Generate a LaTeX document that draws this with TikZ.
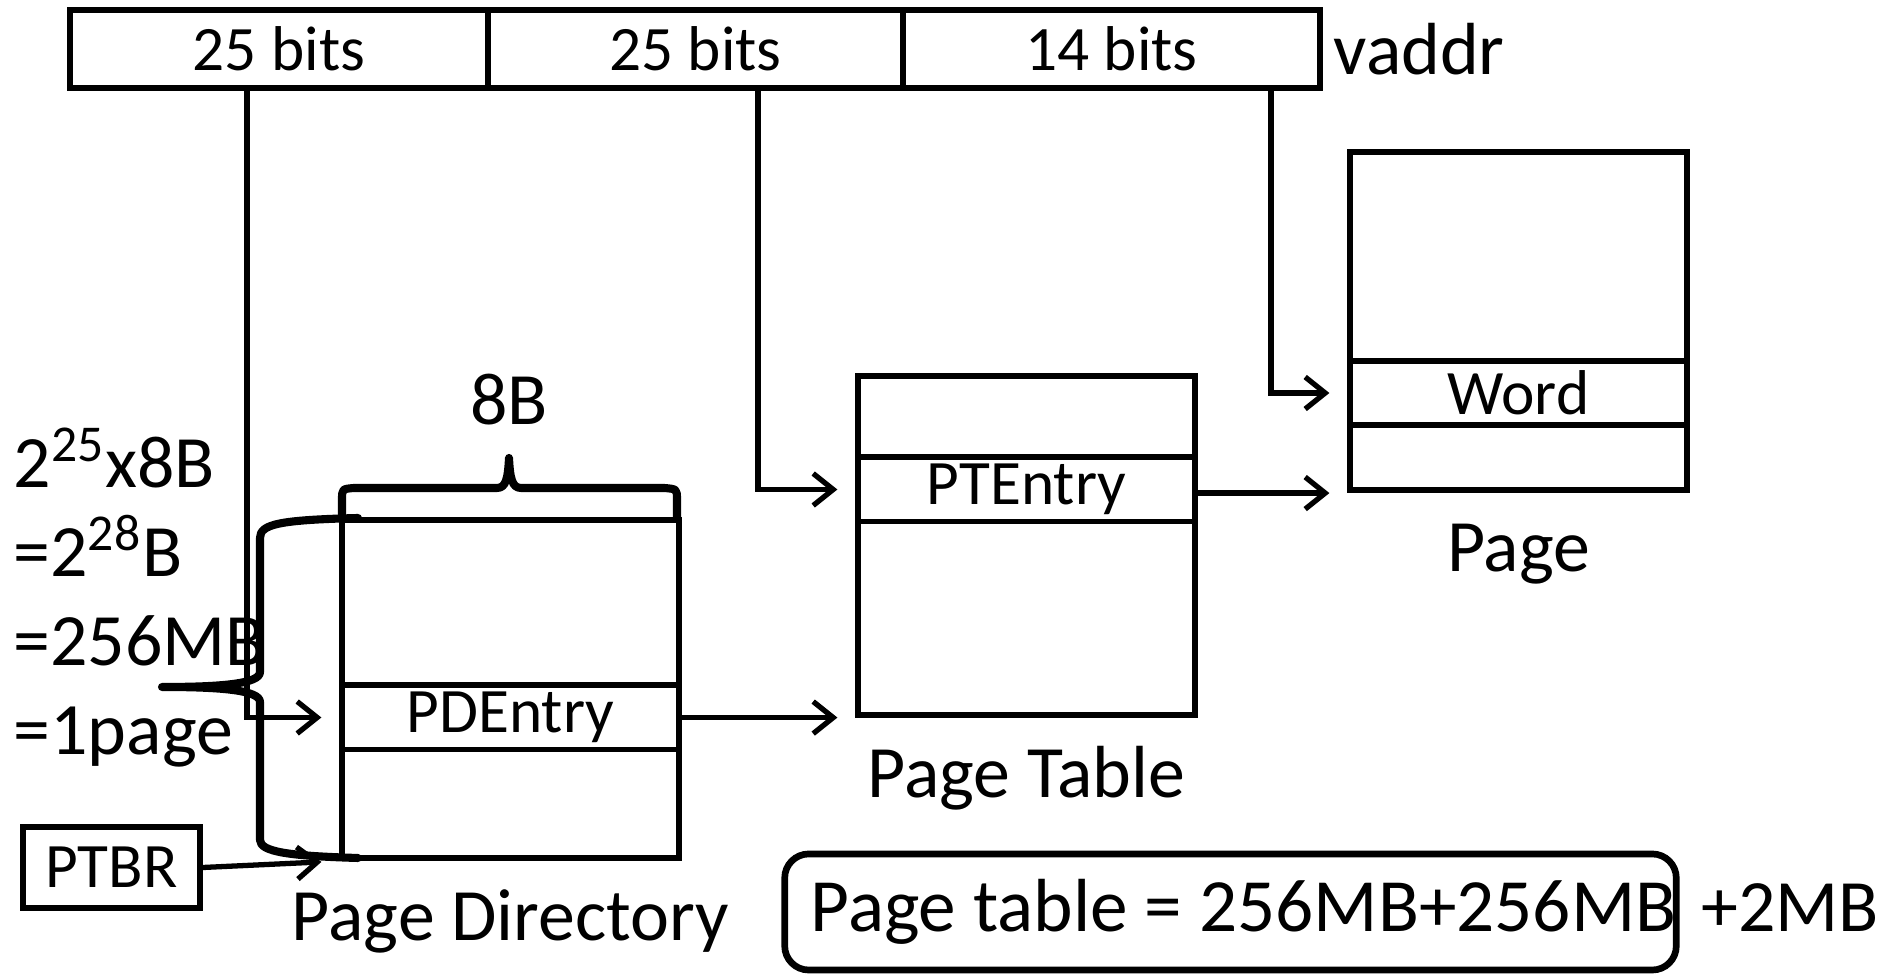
\documentclass[tikz,border=0pt]{standalone}
\usepackage{fontspec}
\setmainfont{Carlito}
\usepackage{tikz}
\usetikzlibrary{arrows.meta,calc,positioning}

\begin{document}
\begin{tikzpicture}[
  x=0.01cm, y=-0.01cm,
  field/.style={rectangle, draw, line width=1.7pt, minimum height=0.78cm, inner sep=0pt, font=\fontsize{18}{22}\selectfont},
  tablebox/.style={rectangle, draw, line width=1.7pt, minimum width=3.36cm, minimum height=3.38cm, inner sep=0pt},
  entrybox/.style={rectangle, draw, line width=1.7pt, minimum width=3.36cm, minimum height=0.64cm, inner sep=0pt, font=\fontsize{18}{22}\selectfont},
  lbl/.style={font=\fontsize{21}{25}\selectfont, inner sep=0pt},
  conn/.style={-{Straight Barb[length=0.2cm,width=0.32cm]}, line width=1.5pt, shorten >=0.18cm},
  bracepath/.style={line width=2.3pt, line cap=round, line join=round},
]
\useasboundingbox (0,0) rectangle (1887,974);

% Virtual address fields
\node[field, minimum width=4.18cm] (f1) at (279,49) {25 bits};
\node[field, minimum width=4.15cm] (f2) at (695.5,49) {25 bits};
\node[field, minimum width=4.17cm] (f3) at (1111.5,49) {14 bits};
\node[lbl, anchor=base west] (vaddr) at (1333,75) {vaddr};

% Page directory, page table and page
\node[tablebox] (pd) at (510.5,689) {};
\node[entrybox] (pde) at (510.5,717.5) {PDEntry};
\node[tablebox] (pt) at (1026.5,545.5) {};
\node[entrybox] (pte) at (1026.5,489.5) {PTEntry};
\node[tablebox] (pg) at (1518.5,321) {};
\node[entrybox] (word) at (1518.5,393) {Word};

% Names under the tables
\node[lbl, below=0.28cm of pd] (pdname) {Page Directory};
\node[lbl, below=0.28cm of pt] (ptname) {Page Table};
\node[lbl, below=0.3cm of pg] (pgname) {Page};

% Base register
\node[rectangle, draw, line width=1.7pt, minimum width=1.77cm, minimum height=0.81cm, inner sep=0pt, font=\fontsize{18}{22}\selectfont] (ptbr) at (111.5,867.5) {PTBR};

% Index lines from the address fields
\coordinate (t1) at (247,88);
\coordinate (t2) at (758,88);
\coordinate (t3) at (1271,88);
\draw[conn] (t1) |- (pde.west);
\draw[conn] (t2) |- (pte.west);
\draw[conn] (t3) |- (word.west);

% Base address arrows
\draw[conn] (ptbr.east) -- (pd.south west);
\draw[conn] (pt.south west -| pde.east) -- (pt.south west);
\draw[conn] (pg.south west -| pte.east) -- (pg.south west);

% Width brace over the page directory
\coordinate (tip) at (509,458);
\draw[bracepath] (342,518) -- (342,500) .. controls (342,489) .. (354,488) -- (497,488)
  .. controls (506,488) and (508,478) .. (tip) .. controls (510,478) and (512,488) .. (521,488)
  -- (664,488) .. controls (677,489) .. (677,500) -- (677,518);
\node[lbl, above=0.32cm of tip] (width) {8B};

% Size brace beside the page directory
\draw[bracepath] (358,518) .. controls (280,520) and (260,524) .. (260,538) -- (260,672)
  .. controls (260,684) and (220,687) .. (162,687) .. controls (220,687) and (260,690) .. (260,702)
  -- (260,840) .. controls (260,852) and (290,856) .. (358,858);

% Size of the page directory
\foreach \txt [count=\i from 0] in {2\textsuperscript{25}x8B, =2\textsuperscript{28}B, =256MB, =1page}
  \node[lbl, anchor=base west] (size\i) at (13,{488+89*\i}) {\txt};

% Total
\node[lbl, draw, line width=1.9pt, rounded corners=0.24cm, minimum width=8.79cm, minimum height=1.16cm, font=\fontsize{21.4}{25}\selectfont] (sum) at (1230.5,912) {\hspace*{0.26cm}Page table = 256MB+256MB};
\node[lbl, anchor=base west] (extra) at ([xshift=0.21cm]sum.base east) {+2MB};
\end{tikzpicture}
\end{document}
